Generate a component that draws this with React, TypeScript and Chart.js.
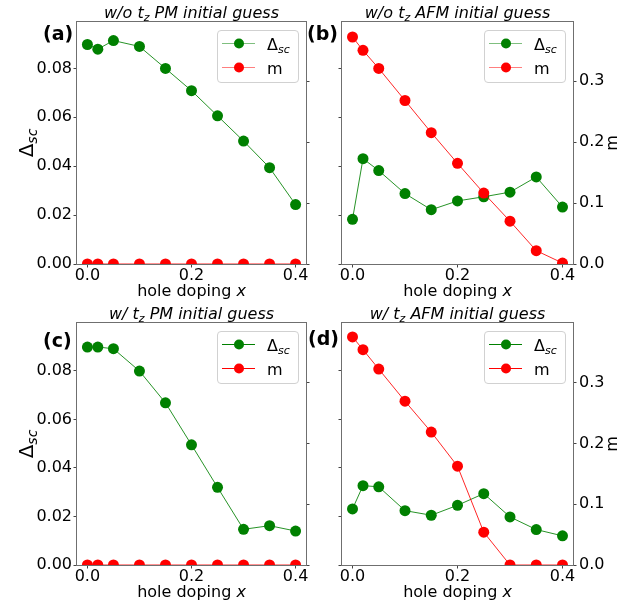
import React, { useEffect, useRef } from "react";
import { Chart, registerables } from "chart.js";

Chart.register(...registerables);

const W = 639;
const H = 610;

// ---------- data ----------
const xDoping = [0, 0.02, 0.05, 0.1, 0.15, 0.2, 0.25, 0.3, 0.35, 0.4];

const deltaA = [0.0898, 0.0879, 0.0914, 0.089, 0.08, 0.0709, 0.0606, 0.0503, 0.0394, 0.0243];
const mA = [0, 0, 0, 0, 0, 0, 0, 0, 0, 0];

const deltaB = [0.0183, 0.0431, 0.0382, 0.0288, 0.0222, 0.0258, 0.0275, 0.0294, 0.0356, 0.0233];
const mB = [0.3724, 0.3505, 0.3208, 0.2682, 0.2155, 0.1651, 0.1163, 0.0702, 0.0219, 0.0016];

const deltaC = [0.0898, 0.0898, 0.0891, 0.0799, 0.0668, 0.0495, 0.032, 0.0147, 0.0162, 0.014];
const mC = [0, 0, 0, 0, 0, 0, 0, 0, 0, 0];

const deltaD = [0.0231, 0.0327, 0.0322, 0.0224, 0.0205, 0.0246, 0.0294, 0.0198, 0.0146, 0.012];
const mD = [0.3756, 0.3546, 0.3226, 0.2697, 0.2189, 0.1627, 0.054, 0, 0, 0];

const panelLetters = ["(a)", "(b)", "(c)", "(d)"];
const titlePrefixes = ["w/o t", "w/o t", "w/ t", "w/ t"];
const titleSuffixes = [" PM initial guess", " AFM initial guess", " PM initial guess", " AFM initial guess"];
const xLabelText = "hole doping ";
const xLabelVar = "x";
const deltaLabel = "Δ";
const deltaSub = "sc";
const mLabel = "m";

// ---------- layout / style ----------
const FAMILY = '"DejaVu Sans", sans-serif';
const GREEN = "#008000";
const RED = "#ff0000";

type Area = { L: number; R: number; T: number; B: number };

type PanelDef = {
  idx: number;
  delta: number[];
  m: number[];
  area: Area;
  showLeft: boolean;
  showRight: boolean;
  deltaMax: number;
  mMax: number;
  legendAlpha: number;
  letterX: number;
  letterY: number;
};

const panels: PanelDef[] = [
  { idx: 0, delta: deltaA, m: mA, area: { L: 77, R: 306, T: 22, B: 264 }, showLeft: true, showRight: false, deltaMax: 0.099, mMax: 0.397, legendAlpha: 0.5, letterX: 43, letterY: 39.5 },
  { idx: 1, delta: deltaB, m: mB, area: { L: 342, R: 573, T: 22, B: 264 }, showLeft: false, showRight: true, deltaMax: 0.099, mMax: 0.397, legendAlpha: 0.5, letterX: 307, letterY: 39.5 },
  { idx: 2, delta: deltaC, m: mC, area: { L: 77, R: 306, T: 323, B: 565 }, showLeft: true, showRight: false, deltaMax: 0.0997, mMax: 0.3985, legendAlpha: 1, letterX: 43, letterY: 346.5 },
  { idx: 3, delta: deltaD, m: mD, area: { L: 342, R: 573, T: 323, B: 565 }, showLeft: false, showRight: true, deltaMax: 0.0997, mMax: 0.3985, legendAlpha: 1, letterX: 308, letterY: 345 },
];

type Part = { text: string; font: string; dy?: number };

function drawRich(ctx: CanvasRenderingContext2D, parts: Part[], x: number, y: number, align: "left" | "center") {
  let total = 0;
  for (const p of parts) {
    ctx.font = p.font;
    total += ctx.measureText(p.text).width;
  }
  let cx = align === "center" ? x - total / 2 : x;
  ctx.textAlign = "left";
  ctx.textBaseline = "alphabetic";
  for (const p of parts) {
    ctx.font = p.font;
    ctx.fillText(p.text, cx, y + (p.dy || 0));
    cx += ctx.measureText(p.text).width;
  }
}

function roundRectPath(ctx: CanvasRenderingContext2D, x: number, y: number, w: number, h: number, r: number) {
  ctx.beginPath();
  ctx.moveTo(x + r, y);
  ctx.lineTo(x + w - r, y);
  ctx.arcTo(x + w, y, x + w, y + r, r);
  ctx.lineTo(x + w, y + h - r);
  ctx.arcTo(x + w, y + h, x + w - r, y + h, r);
  ctx.lineTo(x + r, y + h);
  ctx.arcTo(x, y + h, x, y + h - r, r);
  ctx.lineTo(x, y + r);
  ctx.arcTo(x, y, x + r, y, r);
  ctx.closePath();
}

function withAlpha(hex: string, a: number) {
  const r = parseInt(hex.slice(1, 3), 16);
  const g = parseInt(hex.slice(3, 5), 16);
  const b = parseInt(hex.slice(5, 7), 16);
  return `rgba(${r},${g},${b},${a})`;
}

function makeDecorPlugin(p: PanelDef) {
  return {
    id: "decor" + p.idx,
    afterDatasetsDraw(chart: any) {
      const ctx: CanvasRenderingContext2D = chart.ctx;
      const ca = chart.chartArea;
      ctx.save();
      ctx.strokeStyle = "#6f6f6f";
      ctx.lineWidth = 1;
      ctx.strokeRect(Math.round(ca.left) - 0.5, Math.round(ca.top) - 0.5, Math.round(ca.right - ca.left) + 1, Math.round(ca.bottom - ca.top) + 1);
      ctx.restore();
    },
    afterDraw(chart: any) {
      const ctx: CanvasRenderingContext2D = chart.ctx;
      const ca = chart.chartArea;
      const cxMid = (ca.left + ca.right) / 2;
      const cyMid = (ca.top + ca.bottom) / 2;
      ctx.save();
      ctx.fillStyle = "#000";
      // title
      drawRich(
        ctx,
        [
          { text: titlePrefixes[p.idx], font: `italic 16px ${FAMILY}` },
          { text: "z", font: `italic 11px ${FAMILY}`, dy: 3 },
          { text: titleSuffixes[p.idx], font: `italic 16px ${FAMILY}` },
        ],
        cxMid,
        ca.top - 4.5,
        "center"
      );
      // panel letter
      ctx.font = `bold 19px ${FAMILY}`;
      ctx.textAlign = "left";
      ctx.textBaseline = "alphabetic";
      ctx.fillText(panelLetters[p.idx], p.letterX, p.letterY);
      // x label
      drawRich(
        ctx,
        [
          { text: xLabelText, font: `16px ${FAMILY}` },
          { text: xLabelVar, font: `italic 16px ${FAMILY}` },
        ],
        cxMid,
        ca.bottom + 32,
        "center"
      );
      // left y label
      if (p.showLeft) {
        ctx.save();
        ctx.translate(33, cyMid);
        ctx.rotate(-Math.PI / 2);
        drawRich(
          ctx,
          [
            { text: deltaLabel, font: `20px ${FAMILY}` },
            { text: deltaSub, font: `italic 14px ${FAMILY}`, dy: 4 },
          ],
          0,
          0,
          "center"
        );
        ctx.restore();
      }
      // right y label
      if (p.showRight) {
        ctx.save();
        ctx.translate(ca.right + 44, cyMid);
        ctx.rotate(-Math.PI / 2);
        drawRich(ctx, [{ text: mLabel, font: `16px ${FAMILY}` }], 0, 0, "center");
        ctx.restore();
      }
      // legend
      const lw = 81;
      const lh = 52;
      const lx = ca.right - 8 - lw;
      const ly = ca.top + 8;
      roundRectPath(ctx, lx + 0.5, ly + 0.5, lw, lh, 3.5);
      ctx.fillStyle = "rgba(255,255,255,0.8)";
      ctx.fill();
      ctx.strokeStyle = "rgba(204,204,204,0.9)";
      ctx.lineWidth = 1;
      ctx.stroke();
      const rows: { color: string; parts: Part[] }[] = [
        {
          color: GREEN,
          parts: [
            { text: deltaLabel, font: `16px ${FAMILY}` },
            { text: deltaSub, font: `italic 11px ${FAMILY}`, dy: 3 },
          ],
        },
        { color: RED, parts: [{ text: mLabel, font: `16px ${FAMILY}` }] },
      ];
      rows.forEach((row, i) => {
        const ry = ly + 13.5 + i * 24;
        ctx.strokeStyle = withAlpha(row.color, p.legendAlpha);
        ctx.lineWidth = 1.2;
        ctx.beginPath();
        ctx.moveTo(lx + 5, ry);
        ctx.lineTo(lx + 38, ry);
        ctx.stroke();
        ctx.fillStyle = row.color;
        ctx.beginPath();
        ctx.arc(lx + 22, ry, 5, 0, Math.PI * 2);
        ctx.fill();
        ctx.fillStyle = "#000";
        drawRich(ctx, row.parts, lx + 50, ry + 6, "left");
      });
      ctx.restore();
    },
  };
}

function Panel({ p }: { p: PanelDef }) {
  const ref = useRef<HTMLCanvasElement | null>(null);
  useEffect(() => {
    if (!ref.current) return;
    const a = p.area;
    const tickFont = { family: FAMILY, size: 16, lineHeight: 1 };
    const gridCommon = {
      display: true,
      drawOnChartArea: false,
      drawTicks: true,
      tickLength: 3.5,
      color: "#444",
      lineWidth: 1,
    };
    const chart = new Chart(ref.current, {
      type: "line",
      data: {
        datasets: [
          {
            label: "m",
            data: xDoping.map((x, i) => ({ x, y: p.m[i] })),
            yAxisID: "y2",
            borderColor: withAlpha(RED, 0.85),
            backgroundColor: RED,
            pointBackgroundColor: RED,
            pointBorderColor: RED,
            pointBorderWidth: 0,
            pointRadius: 5.5,
            borderWidth: 1,
            tension: 0,
            clip: 0,
            order: 1,
          } as any,
          {
            label: "Δsc",
            data: xDoping.map((x, i) => ({ x, y: p.delta[i] })),
            yAxisID: "y",
            borderColor: withAlpha(GREEN, 0.85),
            backgroundColor: GREEN,
            pointBackgroundColor: GREEN,
            pointBorderColor: GREEN,
            pointBorderWidth: 0,
            pointRadius: 5.5,
            borderWidth: 1,
            tension: 0,
            clip: 0,
            order: 2,
          } as any,
        ],
      },
      options: {
        responsive: false,
        animation: false,
        events: [],
        layout: {
          padding: { left: a.L - 60, right: W - a.R - 40, top: a.T, bottom: H - a.B - 40 },
        },
        plugins: {
          legend: { display: false },
          tooltip: { enabled: false },
          title: { display: false },
        },
        scales: {
          x: {
            type: "linear",
            position: "bottom",
            min: -0.02,
            max: 0.42,
            border: { display: false },
            grid: gridCommon,
            ticks: {
              stepSize: 0.2,
              includeBounds: false,
              autoSkip: false,
              maxRotation: 0,
              minRotation: 0,
              padding: 0.5,
              color: "#000",
              font: tickFont,
              callback: (v: any) => Number(v).toFixed(1),
            },
            afterFit: (s: any) => {
              s.height = 40;
            },
          },
          y: {
            type: "linear",
            position: "left",
            min: 0,
            max: p.deltaMax,
            border: { display: false },
            grid: gridCommon,
            ticks: {
              display: p.showLeft,
              stepSize: 0.02,
              includeBounds: false,
              autoSkip: false,
              padding: 1.5,
              color: "#000",
              font: tickFont,
              callback: (v: any) => Number(v).toFixed(2),
            },
            afterFit: (s: any) => {
              s.width = 60;
            },
          },
          y2: {
            type: "linear",
            position: "right",
            min: 0,
            max: p.mMax,
            border: { display: false },
            grid: gridCommon,
            ticks: {
              display: p.showRight,
              stepSize: 0.1,
              includeBounds: false,
              autoSkip: false,
              padding: 2.5,
              color: "#000",
              font: tickFont,
              callback: (v: any) => Number(v).toFixed(1),
            },
            afterFit: (s: any) => {
              s.width = 40;
            },
          },
        },
      } as any,
      plugins: [makeDecorPlugin(p) as any],
    });
    return () => chart.destroy();
  }, [p]);
  return (
    <canvas
      ref={ref}
      width={W}
      height={H}
      style={{ position: "absolute", left: 0, top: 0, width: W, height: H }}
    />
  );
}

export default function App() {
  return (
    <div style={{ position: "absolute", left: 0, top: 0, width: W, height: H, background: "#fff", overflow: "hidden" }}>
      {panels.map((p) => (
        <Panel key={p.idx} p={p} />
      ))}
    </div>
  );
}
